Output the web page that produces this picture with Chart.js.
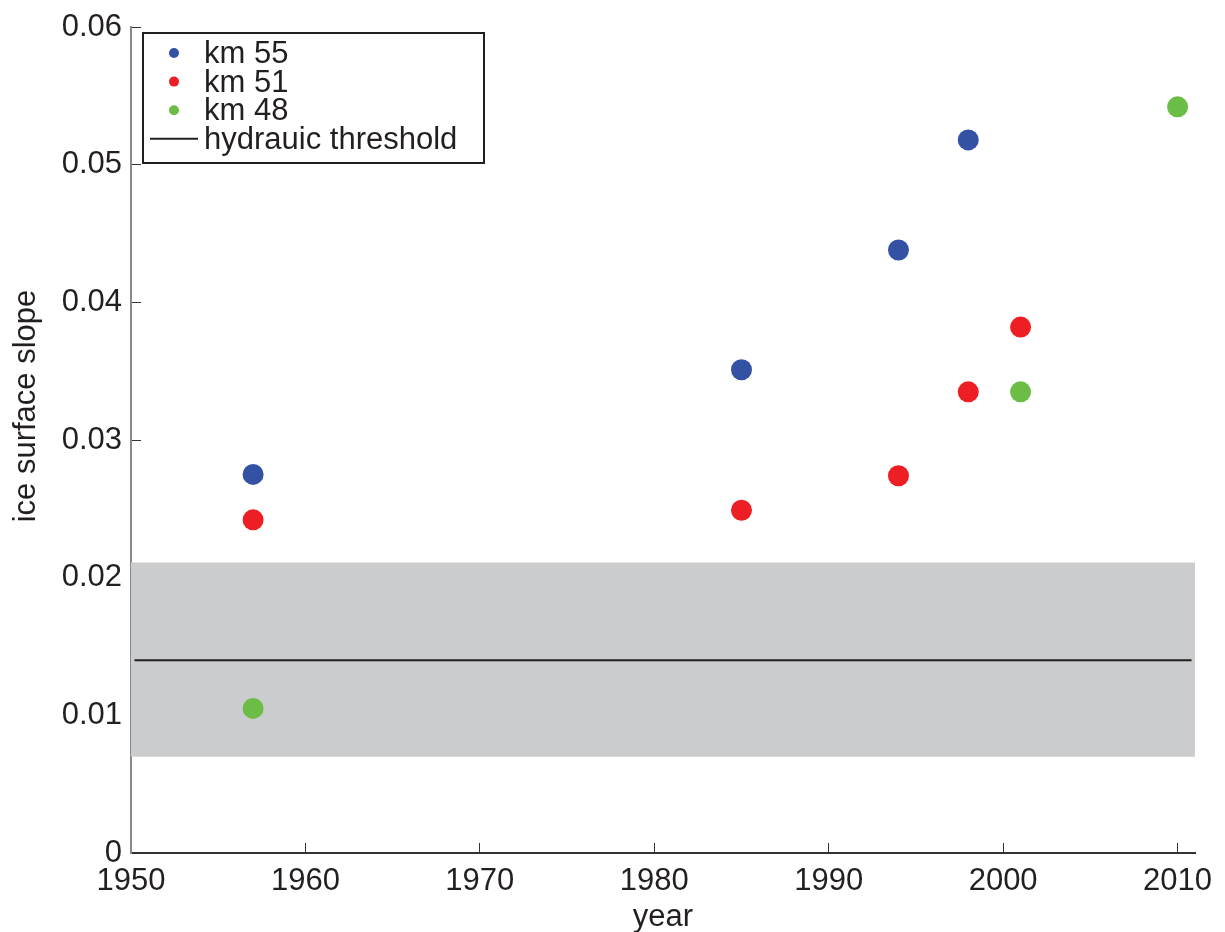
<!DOCTYPE html>
<html>
<head>
<meta charset="utf-8">
<script src="https://cdn.jsdelivr.net/npm/chart.js@4"></script>
<style>
  html, body { margin: 0; padding: 0; background: #fff; }
  #wrap { width: 1225px; height: 932px; }
</style>
</head>
<body>
<div id="wrap"><canvas id="myChart" width="1225" height="932"></canvas></div>
<script>
// values
const years55 = [1957, 1985, 1994, 1998];
const slope55 = [0.0275, 0.0351, 0.0438, 0.0518];
const years51 = [1957, 1985, 1994, 1998, 2001];
const slope51 = [0.0242, 0.0249, 0.0274, 0.0335, 0.0382];
const years48 = [1957, 2001, 2010];
const slope48 = [0.0105, 0.0335, 0.0542];

const thresholdYears = [1950.2, 2010.8];
const thresholdValue = 0.014;
const bandYears = [1950, 2011];
const bandTop = 0.0211;
const bandBottom = 0.007;

const xTicks = [1950, 1960, 1970, 1980, 1990, 2000, 2010];
const yTicks = [0, 0.01, 0.02, 0.03, 0.04, 0.05, 0.06];

const FONT = 'Liberation Sans, Arial, Helvetica, sans-serif';
const TEXT = '#231f20';
const SIZE = 31;

const toPoints = (xs, ys) => xs.map((x, i) => ({ x, y: Array.isArray(ys) ? ys[i] : ys }));

const pointSet = (label, xs, ys, color) => ({
  label,
  data: toPoints(xs, ys),
  showLine: false,
  pointRadius: 10.5,
  pointHoverRadius: 10.5,
  pointBorderWidth: 0,
  backgroundColor: color,
  borderColor: color
});

// draws the boxed legend in the upper left and the y title
const legendBox = {
  id: 'legendBox',
  afterDraw(chart) {
    const { ctx, chartArea } = chart;
    const left = chartArea.left + 12, top = chartArea.top + 6;
    const w = 341, h = 130;
    ctx.save();
    ctx.fillStyle = '#fff';
    ctx.fillRect(left, top, w, h);
    ctx.strokeStyle = TEXT;
    ctx.lineWidth = 2;
    ctx.strokeRect(left, top, w, h);

    const mx = left + 31, tx = left + 61;
    ctx.font = SIZE + 'px ' + FONT;
    ctx.textBaseline = 'alphabetic';
    ctx.textAlign = 'left';
    chart.data.datasets.slice(0, 4).forEach((ds, i) => {
      const y = top + 20 + i * 28.6;
      if (ds.showLine) {
        ctx.strokeStyle = ds.borderColor;
        ctx.lineWidth = 2;
        ctx.beginPath();
        ctx.moveTo(mx - 24, y);
        ctx.lineTo(mx + 24, y);
        ctx.stroke();
      } else {
        ctx.fillStyle = ds.backgroundColor;
        ctx.beginPath();
        ctx.arc(mx, y, 5, 0, Math.PI * 2);
        ctx.fill();
      }
      ctx.fillStyle = TEXT;
      ctx.fillText(ds.label, tx, y + 10);
    });

    // y axis title
    ctx.translate(26, 406);
    ctx.rotate(-Math.PI / 2);
    ctx.textAlign = 'center';
    ctx.textBaseline = 'middle';
    ctx.fillStyle = TEXT;
    ctx.fillText('ice surface slope', 0, 0);
    ctx.restore();
  }
};

new Chart(document.getElementById('myChart'), {
  type: 'line',
  data: {
    datasets: [
      pointSet('km 55', years55, slope55, '#3452a4'),
      pointSet('km 51', years51, slope51, '#ed1f24'),
      pointSet('km 48', years48, slope48, '#6bbd45'),
      {
        label: 'hydrauic threshold',
        data: toPoints(thresholdYears, thresholdValue),
        showLine: true,
        borderColor: '#231f20',
        borderWidth: 2,
        pointRadius: 0,
        fill: false
      },
      {
        label: 'band top',
        data: toPoints(bandYears, bandTop),
        showLine: true,
        borderWidth: 0,
        borderColor: 'rgba(0,0,0,0)',
        pointRadius: 0,
        fill: false
      },
      {
        label: 'band bottom',
        data: toPoints(bandYears, bandBottom),
        showLine: true,
        borderWidth: 0,
        borderColor: 'rgba(0,0,0,0)',
        backgroundColor: '#cbccce',
        pointRadius: 0,
        fill: '-1'
      }
    ]
  },
  options: {
    responsive: false,
    animation: false,
    events: [],
    layout: { padding: { left: 0, right: 30, top: 27, bottom: 0 } },
    plugins: {
      legend: { display: false },
      tooltip: { enabled: false }
    },
    scales: {
      x: {
        type: 'linear',
        min: 1950,
        max: 2011,
        afterBuildTicks: (scale) => { scale.ticks = xTicks.map(value => ({ value })); },
        afterFit: (scale) => {
          scale.height = 79;
          scale.paddingLeft = 0;
          scale.paddingRight = 0;
        },
        grid: { drawOnChartArea: false, tickLength: -10, color: '#333', lineWidth: 1 },
        border: { color: '#333', width: 2 },
        ticks: {
          padding: 20,
          maxRotation: 0,
          color: TEXT,
          font: { family: FONT, size: SIZE },
          callback: (v) => String(v)
        },
        title: {
          display: true,
          text: 'year',
          color: TEXT,
          font: { family: FONT, size: SIZE },
          padding: { top: 0, bottom: -4 }
        }
      },
      y: {
        type: 'linear',
        min: 0,
        max: 0.06,
        afterBuildTicks: (scale) => { scale.ticks = yTicks.map(value => ({ value })); },
        afterFit: (scale) => {
          scale.width = 131;
          scale.paddingTop = 0;
          scale.paddingBottom = 0;
        },
        grid: { drawOnChartArea: false, tickLength: -10, color: '#333', lineWidth: 1 },
        border: { color: '#8a8a8a', width: 2 },
        ticks: {
          padding: 19,
          color: TEXT,
          font: { family: FONT, size: SIZE },
          callback: (v) => (v === 0 ? '0' : v.toFixed(2))
        }
      }
    }
  },
  plugins: [legendBox]
});
</script>
</body>
</html>
